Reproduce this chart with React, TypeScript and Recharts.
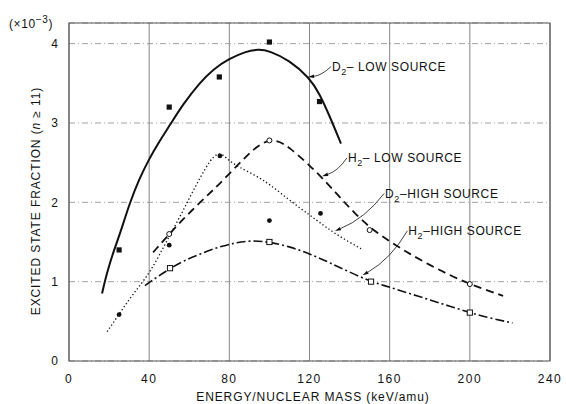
import React from "react";
import {
  ComposedChart,
  Line,
  Scatter,
  XAxis,
  YAxis,
  CartesianGrid,
  ReferenceLine,
  ReferenceArea,
} from "recharts";

// ---- data (energy keV/amu, excited state fraction x1e-3) ----
const xTicks = [0, 40, 80, 120, 160, 200, 240];
const yTicks = [0, 1, 2, 3, 4];

const d2LowCurve = [
  { e: 16.5, f: 0.85 }, { e: 18, f: 1.02 }, { e: 20, f: 1.2 }, { e: 22.5, f: 1.4 },
  { e: 25.4, f: 1.6 }, { e: 30.4, f: 2.0 }, { e: 35, f: 2.29 }, { e: 39.6, f: 2.53 },
  { e: 45.4, f: 2.78 }, { e: 50, f: 2.96 }, { e: 57, f: 3.24 }, { e: 65, f: 3.5 },
  { e: 72, f: 3.68 }, { e: 80, f: 3.81 }, { e: 88, f: 3.9 }, { e: 94.4, f: 3.93 },
  { e: 100, f: 3.91 }, { e: 110, f: 3.79 }, { e: 120, f: 3.57 }, { e: 125, f: 3.37 },
  { e: 130, f: 3.09 }, { e: 135.7, f: 2.74 },
];
const d2LowPoints = [
  { e: 25, f: 1.4 }, { e: 50, f: 3.2 }, { e: 75, f: 3.58 }, { e: 100, f: 4.02 }, { e: 125, f: 3.27 },
];

const h2LowCurve = [
  { e: 42, f: 1.37 }, { e: 50, f: 1.6 }, { e: 57, f: 1.79 }, { e: 65.4, f: 2.0 },
  { e: 73, f: 2.18 }, { e: 80, f: 2.36 }, { e: 88, f: 2.57 }, { e: 94, f: 2.71 },
  { e: 100, f: 2.79 }, { e: 105, f: 2.77 }, { e: 110, f: 2.69 }, { e: 120, f: 2.47 },
  { e: 130, f: 2.21 }, { e: 137, f: 2.01 }, { e: 142, f: 1.88 }, { e: 150, f: 1.68 },
  { e: 161, f: 1.49 }, { e: 170, f: 1.35 }, { e: 180, f: 1.21 }, { e: 190, f: 1.08 },
  { e: 200, f: 0.97 }, { e: 210, f: 0.88 }, { e: 216.6, f: 0.82 },
];
const h2LowPoints = [
  { e: 50, f: 1.6 }, { e: 100, f: 2.78 }, { e: 150, f: 1.65 }, { e: 200, f: 0.97 },
];

const d2HighCurve = [
  { e: 19, f: 0.37 }, { e: 25, f: 0.59 }, { e: 30.4, f: 0.79 }, { e: 35, f: 0.94 },
  { e: 40.4, f: 1.12 }, { e: 45.4, f: 1.35 }, { e: 50, f: 1.57 }, { e: 55.4, f: 1.82 },
  { e: 60.4, f: 2.07 }, { e: 65.4, f: 2.31 }, { e: 70.4, f: 2.53 }, { e: 74, f: 2.62 },
  { e: 77, f: 2.6 }, { e: 80, f: 2.52 }, { e: 85, f: 2.44 }, { e: 93.7, f: 2.33 },
  { e: 100, f: 2.23 }, { e: 110.3, f: 2.02 }, { e: 120, f: 1.84 }, { e: 127, f: 1.71 },
  { e: 132, f: 1.62 }, { e: 139, f: 1.51 }, { e: 146.8, f: 1.4 },
];
const d2HighPoints = [
  { e: 25, f: 0.585 }, { e: 50, f: 1.46 }, { e: 75.3, f: 2.585 }, { e: 100, f: 1.77 }, { e: 125.5, f: 1.86 },
];

const h2HighCurve = [
  { e: 37.9, f: 0.95 }, { e: 44, f: 1.06 }, { e: 50.4, f: 1.165 }, { e: 57, f: 1.26 },
  { e: 65.4, f: 1.35 }, { e: 75, f: 1.44 }, { e: 83, f: 1.49 }, { e: 91, f: 1.52 },
  { e: 100, f: 1.5 }, { e: 110.3, f: 1.44 }, { e: 120.3, f: 1.35 }, { e: 130, f: 1.24 },
  { e: 140, f: 1.12 }, { e: 150.7, f: 1.0 }, { e: 160, f: 0.93 }, { e: 170, f: 0.85 },
  { e: 180, f: 0.77 }, { e: 190, f: 0.69 }, { e: 200, f: 0.61 }, { e: 210, f: 0.54 },
  { e: 221.3, f: 0.48 },
];
const h2HighPoints = [
  { e: 50.4, f: 1.17 }, { e: 100, f: 1.5 }, { e: 150.7, f: 1.0 }, { e: 200, f: 0.61 },
];

// annotation: label start (data) -> arrow tip (data)
const annotations = [
  { mol: "D", rest: "\u2013 LOW SOURCE", from: { e: 131.2, f: 3.71 }, to: { e: 119.3, f: 3.58 }, bend: -4 },
  { mol: "H", rest: "\u2013 LOW SOURCE", from: { e: 139.2, f: 2.56 }, to: { e: 126.3, f: 2.33 }, bend: -5 },
  { mol: "D", rest: "\u2013HIGH SOURCE", from: { e: 157.7, f: 2.11 }, to: { e: 132.7, f: 1.64 }, bend: -8 },
  { mol: "H", rest: "\u2013HIGH SOURCE", from: { e: 169.3, f: 1.64 }, to: { e: 146.5, f: 1.08 }, bend: -8 },
];

const FONT = "'Liberation Sans', Arial, sans-serif";
const INK = "#111";

const FilledSquare = (p: any) => (
  <rect x={p.cx - 2.6} y={p.cy - 2.6} width={5.2} height={5.2} fill={INK} />
);
const FilledCircle = (p: any) => <circle cx={p.cx} cy={p.cy} r={2.4} fill={INK} />;
const OpenCircle = (p: any) => (
  <circle cx={p.cx} cy={p.cy} r={2.5} fill="#fff" stroke={INK} strokeWidth={1} />
);
const OpenSquare = (p: any) => (
  <rect x={p.cx - 2.6} y={p.cy - 2.6} width={5.2} height={5.2} fill="#fff" stroke={INK} strokeWidth={1} />
);

const makeLeader = (a: any) => (p: any) => {
  const { x1, y1, x2, y2 } = p;
  if (x1 == null) return null;
  const mx = (x1 + x2) / 2;
  const my = (y1 + y2) / 2;
  const dx = x2 - x1;
  const dy = y2 - y1;
  const len = Math.sqrt(dx * dx + dy * dy) || 1;
  const nx = -dy / len;
  const ny = dx / len;
  const cx = mx + nx * a.bend;
  const cy = my + ny * a.bend;
  const adx = x2 - cx;
  const ady = y2 - cy;
  const al = Math.sqrt(adx * adx + ady * ady) || 1;
  const ux = adx / al;
  const uy = ady / al;
  const hl = 6;
  const hw = 1.8;
  const bx = x2 - ux * hl;
  const by = y2 - uy * hl;
  const head = `M${x2},${y2} L${bx - uy * hw},${by + ux * hw} L${bx + uy * hw},${by - ux * hw} Z`;
  return (
    <g>
      <path d={`M${x1 - 1},${y1} Q${cx},${cy} ${bx},${by}`} fill="none" stroke={INK} strokeWidth={0.8} />
      <path d={head} fill={INK} stroke="none" />
      <text x={x1} y={y1 + 4.5} fontFamily={FONT} fontSize={12} fill={INK} letterSpacing={0.6}>
        <tspan>{a.mol}</tspan>
        <tspan dy={3.5} fontSize={9}>2</tspan>
        <tspan dy={-3.5}>{a.rest}</tspan>
      </text>
    </g>
  );
};

const YLabel = (props: any) => {
  const vb = props.viewBox || { x: 0, y: 0, width: 69, height: 338 };
  const cy = vb.y + vb.height / 2 + 9;
  const cx = 36;
  return (
    <g>
      <text
        transform={`translate(${cx},${cy}) rotate(-90)`}
        textAnchor="middle"
        dominantBaseline="central"
        fontFamily={FONT}
        fontSize={12}
        fill={INK}
        letterSpacing={0.9}
      >
        <tspan>EXCITED STATE FRACTION  (</tspan>
        <tspan fontStyle="italic">n</tspan>
        <tspan> {"\u2265"} 11)</tspan>
      </text>
      <text x={9} y={vb.y + 4.5} fontFamily={FONT} fontSize={12} fill={INK} letterSpacing={0.6}>
        <tspan>({"\u00d7"}10</tspan>
        <tspan dy={-5} fontSize={10}>{"\u22123"}</tspan>
        <tspan dy={5}>)</tspan>
      </text>
    </g>
  );
};

const XLabel = (props: any) => {
  const vb = props.viewBox || { x: 69, y: 360, width: 481, height: 43 };
  return (
    <text
      x={313}
      y={vb.y + 39.5}
      textAnchor="middle"
      fontFamily={FONT}
      fontSize={12}
      fill={INK}
      letterSpacing={0.9}
    >
      ENERGY/NUCLEAR MASS (keV/amu)
    </text>
  );
};

export default function App() {
  return (
    <div style={{ position: "absolute", left: 0, top: 0, width: 566, height: 404, background: "#fff" }}>
      <ComposedChart
        width={566}
        height={404}
        margin={{ top: 23, right: 16, bottom: 0, left: 0 }}
      >
        <CartesianGrid horizontal={false} stroke="#777" strokeWidth={0.9} />
        <CartesianGrid vertical={false} stroke="#999" strokeWidth={0.9} strokeDasharray="6 3 1 3" />
        <XAxis
          dataKey="e"
          type="number"
          domain={[0, 240]}
          ticks={xTicks}
          tickLine={false}
          axisLine={false}
          tickSize={6}
          tickMargin={7}
          height={43}
          allowDataOverflow
          tick={{ fontFamily: FONT, fontSize: 12, fill: INK, letterSpacing: 1.5 }}
          label={<XLabel />}
        />
        <YAxis
          dataKey="f"
          type="number"
          domain={[0, 4.26]}
          ticks={yTicks}
          tickLine={false}
          axisLine={false}
          tickSize={6}
          tickMargin={5}
          width={69}
          allowDataOverflow
          tick={{ fontFamily: FONT, fontSize: 12, fill: INK }}
          label={<YLabel />}
        />
        <ReferenceArea x1={0} x2={240} y1={0} y2={4.26} fill="none" stroke="#555" strokeWidth={1.1} ifOverflow="visible" />

        <Line data={d2LowCurve} dataKey="f" type="basis" stroke={INK} strokeWidth={2} dot={false} isAnimationActive={false} />
        <Line data={h2LowCurve} dataKey="f" type="basis" stroke={INK} strokeWidth={1.8} strokeDasharray="8 5" dot={false} isAnimationActive={false} />
        <Line data={d2HighCurve} dataKey="f" type="basis" stroke={INK} strokeWidth={1.3} strokeDasharray="1.3 2.4" dot={false} isAnimationActive={false} />
        <Line data={h2HighCurve} dataKey="f" type="basis" stroke={INK} strokeWidth={1.6} strokeDasharray="9 3 2 3" dot={false} isAnimationActive={false} />

        <Scatter data={d2LowPoints} dataKey="f" shape={<FilledSquare />} isAnimationActive={false} />
        <Scatter data={h2LowPoints} dataKey="f" shape={<OpenCircle />} isAnimationActive={false} />
        <Scatter data={d2HighPoints} dataKey="f" shape={<FilledCircle />} isAnimationActive={false} />
        <Scatter data={h2HighPoints} dataKey="f" shape={<OpenSquare />} isAnimationActive={false} />

        {annotations.map((a, i) => (
          <ReferenceLine
            key={i}
            segment={[{ x: a.from.e, y: a.from.f }, { x: a.to.e, y: a.to.f }]}
            ifOverflow="visible"
            shape={makeLeader(a)}
          />
        ))}
      </ComposedChart>
    </div>
  );
}
